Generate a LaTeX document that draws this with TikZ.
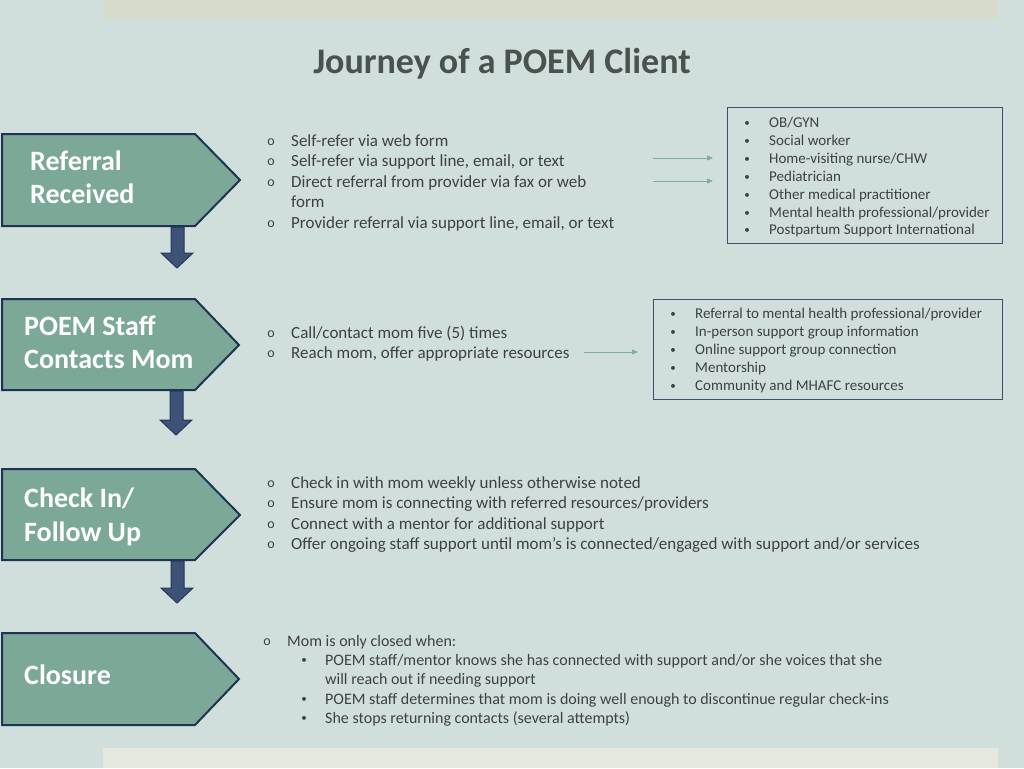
\documentclass[tikz,border=0pt]{standalone}
\usepackage{fontspec}
\setmainfont{Carlito}
\usetikzlibrary{arrows.meta}
\definecolor{bg}{HTML}{D0DFDC}
\definecolor{topbar}{HTML}{D6DBCB}
\definecolor{botbar}{HTML}{E4E8DE}
\definecolor{penfill}{HTML}{7BA897}
\definecolor{penline}{HTML}{1F3354}
\definecolor{darr}{HTML}{3E5277}
\definecolor{darrline}{HTML}{26385A}
\definecolor{smarr}{HTML}{7FAFA0}
\definecolor{boxline}{HTML}{3E4F6E}
\definecolor{txt}{HTML}{404040}
\definecolor{ttl}{HTML}{4A514F}
\tikzset{
  pent/.style={fill=penfill, draw=penline, line width=2pt, line join=miter},
  dblock/.style={fill=darr, draw=darrline, line width=1pt},
  lbl/.style={anchor=west, inner sep=0, text=white, font=\fontsize{28}{32}\selectfont\bfseries, text height=0.7em, text depth=0.2em, yshift=-6.5pt},
  ln/.style={anchor=west, inner sep=0, text=txt, font=\fontsize{17}{20}\selectfont, text height=0.7em, text depth=0.2em, yshift=-4pt},
  lnb/.style={anchor=west, inner sep=0, text=txt, font=\fontsize{16}{19}\selectfont, text height=0.7em, text depth=0.2em, yshift=-4pt},
  bl/.style={anchor=west, inner sep=0, text=txt, font=\fontsize{15}{18}\selectfont, text height=0.7em, text depth=0.2em, yshift=-3pt},
  dot/.style={anchor=center, inner sep=0, text=txt, font=\fontsize{11}{13}\selectfont, yshift=-1.5pt},
  obul/.style={anchor=center, inner sep=0, text=txt, font=\fontsize{14}{16}\selectfont, yshift=-2.5pt},
  ibox/.style={draw=boxline, line width=1pt},
  sarrow/.style={draw=smarr, line width=1pt, -{Triangle[length=6pt,width=5pt]}},
}
\begin{document}
\begin{tikzpicture}[x=1pt,y=-1pt]
\useasboundingbox (0,0) rectangle (1024,768);
\fill[bg] (0,0) rectangle (1024,768);
\fill[topbar] (103,0) rectangle (998,19);
\fill[botbar] (103,748) rectangle (998,768);

\node[anchor=base, inner sep=0, text=ttl, font=\fontsize{36}{40}\selectfont\bfseries] (title) at (502,74) {Journey of a POEM Client};

% pentagons
\draw[pent] (2,134) -- (195,134) -- (240,180) -- (195,226) -- (2,226) -- cycle;
\draw[pent] (2,299) -- (195,299) -- (239,345) -- (195,390) -- (2,390) -- cycle;
\draw[pent] (2,469) -- (195,469) -- (240,515) -- (195,560) -- (2,560) -- cycle;
\draw[pent] (2,633) -- (195,633) -- (239,679) -- (195,725) -- (2,725) -- cycle;

\node[lbl] (r1a) at (30,161) {Referral};
\node[lbl] (r1b) at (30,194) {Received};
\node[lbl] (r2a) at (24,326) {POEM Staff};
\node[lbl] (r2b) at (24,359) {Contacts Mom};
\node[lbl] (r3a) at (24,498) {Check In/};
\node[lbl] (r3b) at (24,532) {Follow Up};
\node[lbl] (r4a) at (24,675) {Closure};

% down block arrows
\draw[dblock] (171,227) -- (184,227) -- (184,253) -- (193,253) -- (177,268) -- (161,253) -- (171,253) -- cycle;
\draw[dblock] (170,391) -- (183,391) -- (183,420) -- (192,420) -- (176,435) -- (160,420) -- (170,420) -- cycle;
\draw[dblock] (171,561) -- (184,561) -- (184,588) -- (193,588) -- (177,603) -- (161,588) -- (171,588) -- cycle;

% section 1
\foreach \y/\n in {140/a,160/b,181/c,222/d} \node[obul] (o1\n) at (271,\y) {o};
\node[ln] (t1a) at (291,140) {Self-refer via web form};
\node[ln] (t1b) at (291,160) {Self-refer via support line, email, or text};
\node[ln] (t1c) at (291,181) {Direct referral from provider via fax or web};
\node[ln] (t1d) at (291,201) {form};
\node[ln] (t1e) at (291,222) {Provider referral via support line, email, or text};

\draw[ibox] (727,107) rectangle (1002,243);
\foreach \y/\n/\t in {122/a/OB\slash GYN,140/b/Social worker,158/c/Home-visiting nurse\slash CHW,176/d/Pediatrician,194/e/Other medical practitioner,212/f/Mental health professional\slash provider,229/g/Postpartum Support International}{
  \node[bl] (b1\n) at (769,\y) {\t};
  \node[dot] (d1\n) at (747,\y) {•};
}
\coordinate (s1a) at (653,158);
\coordinate (e1a) at (713,158);
\coordinate (s1b) at (653,181);
\coordinate (e1b) at (713,181);
\draw[sarrow] (s1a) -- (e1a);
\draw[sarrow] (s1b) -- (e1b);

% section 2
\foreach \y/\n in {332/a,352/b} \node[obul] (o2\n) at (271,\y) {o};
\node[ln] (t2a) at (291,332) {Call/contact mom five (5) times};
\node[ln] (t2b) at (291,352) {Reach mom, offer appropriate resources};
\draw[ibox] (653,299) rectangle (1002,399);
\foreach \y/\n/\t in {313/a/Referral to mental health professional\slash provider,331/b/In-person support group information,349/c/Online support group connection,367/d/Mentorship,385/e/Community and MHAFC resources}{
  \node[bl] (b2\n) at (695,\y) {\t};
  \node[dot] (d2\n) at (673,\y) {•};
}
\coordinate (s2) at (584,352);
\coordinate (e2) at (638,352);
\draw[sarrow] (s2) -- (e2);

% section 3
\foreach \y/\n in {482/a,502/b,523/c,543/d} \node[obul] (o3\n) at (271,\y) {o};
\node[ln] (t3a) at (291,482) {Check in with mom weekly unless otherwise noted};
\node[ln] (t3b) at (291,502) {Ensure mom is connecting with referred resources/providers};
\node[ln] (t3c) at (291,523) {Connect with a mentor for additional support};
\node[ln] (t3d) at (291,543) {Offer ongoing staff support until mom’s is connected/engaged with support and/or services};

% section 4
\node[obul] (o4a) at (267,640) {o};
\node[lnb] (t4a) at (287,640) {Mom is only closed when:};
\node[dot] (d4a) at (304,659) {•};
\node[lnb] (t4b) at (325,659) {POEM staff/mentor knows she has connected with support and/or she voices that she};
\node[lnb] (t4c) at (325,678) {will reach out if needing support};
\node[dot] (d4b) at (304,698) {•};
\node[lnb] (t4d) at (325,698) {POEM staff determines that mom is doing well enough to discontinue regular check-ins};
\node[dot] (d4c) at (304,717) {•};
\node[lnb] (t4e) at (325,717) {She stops returning contacts (several attempts)};
\end{tikzpicture}
\end{document}
